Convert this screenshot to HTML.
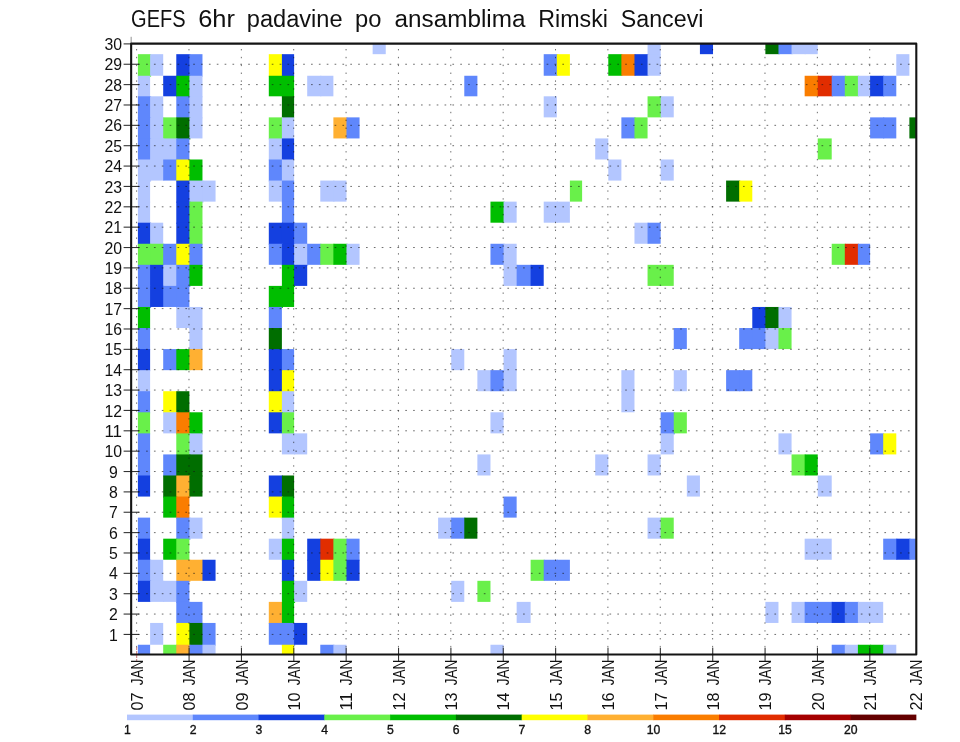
<!DOCTYPE html>
<html lang="sr"><head><meta charset="utf-8"><title>GEFS 6hr padavine po ansamblima Rimski Sancevi</title>
<style>html,body{margin:0;padding:0;background:#fff}body{width:960px;height:742px;overflow:hidden}svg{display:block}text{font-family:"Liberation Sans",sans-serif;fill:#111}</style></head><body>
<svg width="960" height="742" viewBox="0 0 960 742">
<rect width="960" height="742" fill="#fff"/>
<g id="cells">
<rect x="372.65" y="43.65" width="13.09" height="10.52" fill="#b3c6ff"/>
<rect x="647.56" y="43.65" width="13.09" height="11.52" fill="#b3c6ff"/>
<rect x="699.93" y="43.65" width="13.09" height="10.52" fill="#1440e0"/>
<rect x="765.38" y="43.65" width="14.09" height="10.52" fill="#006e00"/>
<rect x="778.47" y="43.65" width="14.09" height="10.52" fill="#5f87fc"/>
<rect x="791.56" y="43.65" width="14.09" height="10.52" fill="#b3c6ff"/>
<rect x="804.65" y="43.65" width="13.09" height="10.52" fill="#b3c6ff"/>
<rect x="137.89" y="54.17" width="13.22" height="22.59" fill="#69f04a"/>
<rect x="150.11" y="54.17" width="13.09" height="21.59" fill="#b3c6ff"/>
<rect x="176.29" y="54.17" width="14.09" height="22.59" fill="#1440e0"/>
<rect x="189.38" y="54.17" width="13.09" height="22.59" fill="#5f87fc"/>
<rect x="268.80" y="54.17" width="14.09" height="22.59" fill="#ffff00"/>
<rect x="281.89" y="54.17" width="12.22" height="22.59" fill="#1440e0"/>
<rect x="543.71" y="54.17" width="14.09" height="21.59" fill="#5f87fc"/>
<rect x="556.80" y="54.17" width="13.09" height="21.59" fill="#ffff00"/>
<rect x="608.29" y="54.17" width="14.09" height="21.59" fill="#00be00"/>
<rect x="621.38" y="54.17" width="14.09" height="21.59" fill="#fa7d00"/>
<rect x="634.47" y="54.17" width="14.09" height="21.59" fill="#1440e0"/>
<rect x="647.56" y="54.17" width="13.09" height="21.59" fill="#b3c6ff"/>
<rect x="896.29" y="54.17" width="13.09" height="21.59" fill="#b3c6ff"/>
<rect x="137.89" y="75.76" width="12.22" height="21.54" fill="#b3c6ff"/>
<rect x="163.20" y="75.76" width="14.09" height="20.54" fill="#1440e0"/>
<rect x="176.29" y="75.76" width="14.09" height="21.54" fill="#00be00"/>
<rect x="189.38" y="75.76" width="13.09" height="21.54" fill="#b3c6ff"/>
<rect x="268.80" y="75.76" width="14.09" height="20.54" fill="#00be00"/>
<rect x="281.89" y="75.76" width="12.22" height="21.54" fill="#00be00"/>
<rect x="307.20" y="75.76" width="14.09" height="20.54" fill="#b3c6ff"/>
<rect x="320.29" y="75.76" width="13.09" height="20.54" fill="#b3c6ff"/>
<rect x="464.29" y="75.76" width="13.09" height="20.54" fill="#5f87fc"/>
<rect x="804.65" y="75.76" width="14.09" height="20.54" fill="#fa7d00"/>
<rect x="817.75" y="75.76" width="14.96" height="20.54" fill="#e12d00"/>
<rect x="831.71" y="75.76" width="14.09" height="20.54" fill="#5f87fc"/>
<rect x="844.80" y="75.76" width="14.09" height="20.54" fill="#69f04a"/>
<rect x="857.89" y="75.76" width="13.22" height="20.54" fill="#b3c6ff"/>
<rect x="870.11" y="75.76" width="14.09" height="20.54" fill="#1440e0"/>
<rect x="883.20" y="75.76" width="13.09" height="20.54" fill="#5f87fc"/>
<rect x="137.89" y="96.30" width="13.22" height="22.07" fill="#5f87fc"/>
<rect x="150.11" y="96.30" width="13.09" height="22.07" fill="#b3c6ff"/>
<rect x="176.29" y="96.30" width="14.09" height="22.07" fill="#5f87fc"/>
<rect x="189.38" y="96.30" width="13.09" height="22.07" fill="#b3c6ff"/>
<rect x="281.89" y="96.30" width="12.22" height="22.07" fill="#006e00"/>
<rect x="543.71" y="96.30" width="13.09" height="21.07" fill="#b3c6ff"/>
<rect x="647.56" y="96.30" width="14.09" height="21.07" fill="#69f04a"/>
<rect x="660.65" y="96.30" width="13.09" height="21.07" fill="#b3c6ff"/>
<rect x="137.89" y="117.37" width="13.22" height="22.07" fill="#5f87fc"/>
<rect x="150.11" y="117.37" width="14.09" height="22.07" fill="#b3c6ff"/>
<rect x="163.20" y="117.37" width="14.09" height="22.07" fill="#69f04a"/>
<rect x="176.29" y="117.37" width="14.09" height="22.07" fill="#006e00"/>
<rect x="189.38" y="117.37" width="13.09" height="21.07" fill="#b3c6ff"/>
<rect x="268.80" y="117.37" width="14.09" height="22.07" fill="#69f04a"/>
<rect x="281.89" y="117.37" width="12.22" height="22.07" fill="#b3c6ff"/>
<rect x="333.38" y="117.37" width="14.09" height="21.07" fill="#ffb032"/>
<rect x="346.47" y="117.37" width="13.09" height="21.07" fill="#5f87fc"/>
<rect x="621.38" y="117.37" width="14.09" height="21.07" fill="#5f87fc"/>
<rect x="634.47" y="117.37" width="13.09" height="21.07" fill="#69f04a"/>
<rect x="870.11" y="117.37" width="14.09" height="21.07" fill="#5f87fc"/>
<rect x="883.20" y="117.37" width="13.09" height="21.07" fill="#5f87fc"/>
<rect x="909.38" y="117.37" width="6.92" height="21.07" fill="#006e00"/>
<rect x="137.89" y="138.43" width="13.22" height="22.07" fill="#5f87fc"/>
<rect x="150.11" y="138.43" width="14.09" height="22.07" fill="#b3c6ff"/>
<rect x="163.20" y="138.43" width="14.09" height="22.07" fill="#b3c6ff"/>
<rect x="176.29" y="138.43" width="13.09" height="22.07" fill="#5f87fc"/>
<rect x="268.80" y="138.43" width="14.09" height="22.07" fill="#b3c6ff"/>
<rect x="281.89" y="138.43" width="12.22" height="22.07" fill="#1440e0"/>
<rect x="595.20" y="138.43" width="13.09" height="21.07" fill="#b3c6ff"/>
<rect x="817.75" y="138.43" width="13.96" height="21.07" fill="#69f04a"/>
<rect x="137.89" y="159.50" width="13.22" height="22.07" fill="#b3c6ff"/>
<rect x="150.11" y="159.50" width="14.09" height="21.07" fill="#b3c6ff"/>
<rect x="163.20" y="159.50" width="14.09" height="21.07" fill="#5f87fc"/>
<rect x="176.29" y="159.50" width="14.09" height="22.07" fill="#ffff00"/>
<rect x="189.38" y="159.50" width="13.09" height="22.07" fill="#00be00"/>
<rect x="268.80" y="159.50" width="14.09" height="22.07" fill="#5f87fc"/>
<rect x="281.89" y="159.50" width="12.22" height="22.07" fill="#b3c6ff"/>
<rect x="608.29" y="159.50" width="13.09" height="21.07" fill="#b3c6ff"/>
<rect x="660.65" y="159.50" width="13.09" height="21.07" fill="#b3c6ff"/>
<rect x="137.89" y="180.56" width="12.22" height="22.07" fill="#b3c6ff"/>
<rect x="176.29" y="180.56" width="14.09" height="22.07" fill="#1440e0"/>
<rect x="189.38" y="180.56" width="14.09" height="22.07" fill="#b3c6ff"/>
<rect x="202.47" y="180.56" width="13.09" height="21.07" fill="#b3c6ff"/>
<rect x="268.80" y="180.56" width="14.09" height="21.07" fill="#b3c6ff"/>
<rect x="281.89" y="180.56" width="12.22" height="22.07" fill="#5f87fc"/>
<rect x="320.29" y="180.56" width="14.09" height="21.07" fill="#b3c6ff"/>
<rect x="333.38" y="180.56" width="13.09" height="21.07" fill="#b3c6ff"/>
<rect x="569.89" y="180.56" width="12.22" height="21.07" fill="#69f04a"/>
<rect x="726.11" y="180.56" width="14.09" height="21.07" fill="#006e00"/>
<rect x="739.20" y="180.56" width="13.09" height="21.07" fill="#ffff00"/>
<rect x="137.89" y="201.63" width="12.22" height="22.07" fill="#b3c6ff"/>
<rect x="176.29" y="201.63" width="14.09" height="22.07" fill="#1440e0"/>
<rect x="189.38" y="201.63" width="13.09" height="22.07" fill="#69f04a"/>
<rect x="281.89" y="201.63" width="12.22" height="22.07" fill="#5f87fc"/>
<rect x="490.47" y="201.63" width="14.09" height="21.07" fill="#00be00"/>
<rect x="503.56" y="201.63" width="13.09" height="21.07" fill="#b3c6ff"/>
<rect x="543.71" y="201.63" width="14.09" height="21.07" fill="#b3c6ff"/>
<rect x="556.80" y="201.63" width="13.09" height="21.07" fill="#b3c6ff"/>
<rect x="137.89" y="222.70" width="13.22" height="22.07" fill="#1440e0"/>
<rect x="150.11" y="222.70" width="13.09" height="22.07" fill="#b3c6ff"/>
<rect x="176.29" y="222.70" width="14.09" height="22.07" fill="#1440e0"/>
<rect x="189.38" y="222.70" width="13.09" height="22.07" fill="#69f04a"/>
<rect x="268.80" y="222.70" width="14.09" height="22.07" fill="#1440e0"/>
<rect x="281.89" y="222.70" width="13.22" height="22.07" fill="#1440e0"/>
<rect x="294.11" y="222.70" width="13.09" height="22.07" fill="#5f87fc"/>
<rect x="634.47" y="222.70" width="14.09" height="21.07" fill="#b3c6ff"/>
<rect x="647.56" y="222.70" width="13.09" height="21.07" fill="#5f87fc"/>
<rect x="137.89" y="243.76" width="13.22" height="22.07" fill="#69f04a"/>
<rect x="150.11" y="243.76" width="14.09" height="22.07" fill="#69f04a"/>
<rect x="163.20" y="243.76" width="14.09" height="22.07" fill="#5f87fc"/>
<rect x="176.29" y="243.76" width="14.09" height="22.07" fill="#ffff00"/>
<rect x="189.38" y="243.76" width="13.09" height="22.07" fill="#5f87fc"/>
<rect x="268.80" y="243.76" width="14.09" height="21.07" fill="#5f87fc"/>
<rect x="281.89" y="243.76" width="13.22" height="22.07" fill="#1440e0"/>
<rect x="294.11" y="243.76" width="14.09" height="22.07" fill="#b3c6ff"/>
<rect x="307.20" y="243.76" width="14.09" height="21.07" fill="#5f87fc"/>
<rect x="320.29" y="243.76" width="14.09" height="21.07" fill="#69f04a"/>
<rect x="333.38" y="243.76" width="14.09" height="21.07" fill="#00be00"/>
<rect x="346.47" y="243.76" width="13.09" height="21.07" fill="#b3c6ff"/>
<rect x="490.47" y="243.76" width="14.09" height="21.07" fill="#5f87fc"/>
<rect x="503.56" y="243.76" width="13.09" height="22.07" fill="#b3c6ff"/>
<rect x="831.71" y="243.76" width="14.09" height="21.07" fill="#69f04a"/>
<rect x="844.80" y="243.76" width="14.09" height="21.07" fill="#e12d00"/>
<rect x="857.89" y="243.76" width="12.22" height="21.07" fill="#5f87fc"/>
<rect x="137.89" y="264.83" width="13.22" height="22.07" fill="#5f87fc"/>
<rect x="150.11" y="264.83" width="14.09" height="22.07" fill="#1440e0"/>
<rect x="163.20" y="264.83" width="14.09" height="22.07" fill="#b3c6ff"/>
<rect x="176.29" y="264.83" width="14.09" height="22.07" fill="#5f87fc"/>
<rect x="189.38" y="264.83" width="13.09" height="21.07" fill="#00be00"/>
<rect x="281.89" y="264.83" width="13.22" height="22.07" fill="#00be00"/>
<rect x="294.11" y="264.83" width="13.09" height="21.07" fill="#1440e0"/>
<rect x="503.56" y="264.83" width="14.09" height="21.07" fill="#b3c6ff"/>
<rect x="516.65" y="264.83" width="14.96" height="21.07" fill="#5f87fc"/>
<rect x="530.62" y="264.83" width="13.09" height="21.07" fill="#1440e0"/>
<rect x="647.56" y="264.83" width="14.09" height="21.07" fill="#69f04a"/>
<rect x="660.65" y="264.83" width="13.09" height="21.07" fill="#69f04a"/>
<rect x="137.89" y="285.89" width="13.22" height="22.07" fill="#5f87fc"/>
<rect x="150.11" y="285.89" width="14.09" height="21.07" fill="#1440e0"/>
<rect x="163.20" y="285.89" width="14.09" height="21.07" fill="#5f87fc"/>
<rect x="176.29" y="285.89" width="13.09" height="22.07" fill="#5f87fc"/>
<rect x="268.80" y="285.89" width="14.09" height="22.07" fill="#00be00"/>
<rect x="281.89" y="285.89" width="12.22" height="21.07" fill="#00be00"/>
<rect x="137.89" y="306.96" width="12.22" height="22.07" fill="#00be00"/>
<rect x="176.29" y="306.96" width="14.09" height="21.07" fill="#b3c6ff"/>
<rect x="189.38" y="306.96" width="13.09" height="22.07" fill="#b3c6ff"/>
<rect x="268.80" y="306.96" width="13.09" height="22.07" fill="#5f87fc"/>
<rect x="752.29" y="306.96" width="14.09" height="22.07" fill="#1440e0"/>
<rect x="765.38" y="306.96" width="14.09" height="22.07" fill="#006e00"/>
<rect x="778.47" y="306.96" width="13.09" height="22.07" fill="#b3c6ff"/>
<rect x="137.89" y="328.03" width="12.22" height="22.07" fill="#5f87fc"/>
<rect x="189.38" y="328.03" width="13.09" height="22.07" fill="#b3c6ff"/>
<rect x="268.80" y="328.03" width="13.09" height="22.07" fill="#006e00"/>
<rect x="673.75" y="328.03" width="13.09" height="21.07" fill="#5f87fc"/>
<rect x="739.20" y="328.03" width="14.09" height="21.07" fill="#5f87fc"/>
<rect x="752.29" y="328.03" width="14.09" height="21.07" fill="#5f87fc"/>
<rect x="765.38" y="328.03" width="14.09" height="21.07" fill="#b3c6ff"/>
<rect x="778.47" y="328.03" width="13.09" height="21.07" fill="#69f04a"/>
<rect x="137.89" y="349.09" width="12.22" height="22.07" fill="#1440e0"/>
<rect x="163.20" y="349.09" width="14.09" height="21.07" fill="#5f87fc"/>
<rect x="176.29" y="349.09" width="14.09" height="21.07" fill="#00be00"/>
<rect x="189.38" y="349.09" width="13.09" height="21.07" fill="#ffb032"/>
<rect x="268.80" y="349.09" width="14.09" height="22.07" fill="#1440e0"/>
<rect x="281.89" y="349.09" width="12.22" height="22.07" fill="#5f87fc"/>
<rect x="451.20" y="349.09" width="13.09" height="21.07" fill="#b3c6ff"/>
<rect x="503.56" y="349.09" width="13.09" height="22.07" fill="#b3c6ff"/>
<rect x="137.89" y="370.16" width="12.22" height="22.07" fill="#b3c6ff"/>
<rect x="268.80" y="370.16" width="14.09" height="22.07" fill="#1440e0"/>
<rect x="281.89" y="370.16" width="12.22" height="22.07" fill="#ffff00"/>
<rect x="477.38" y="370.16" width="14.09" height="21.07" fill="#b3c6ff"/>
<rect x="490.47" y="370.16" width="14.09" height="21.07" fill="#5f87fc"/>
<rect x="503.56" y="370.16" width="13.09" height="21.07" fill="#b3c6ff"/>
<rect x="621.38" y="370.16" width="13.09" height="22.07" fill="#b3c6ff"/>
<rect x="673.75" y="370.16" width="13.09" height="21.07" fill="#b3c6ff"/>
<rect x="726.11" y="370.16" width="14.09" height="21.07" fill="#5f87fc"/>
<rect x="739.20" y="370.16" width="13.09" height="21.07" fill="#5f87fc"/>
<rect x="137.89" y="391.22" width="12.22" height="22.07" fill="#5f87fc"/>
<rect x="163.20" y="391.22" width="14.09" height="22.07" fill="#ffff00"/>
<rect x="176.29" y="391.22" width="13.09" height="22.07" fill="#006e00"/>
<rect x="268.80" y="391.22" width="14.09" height="22.07" fill="#ffff00"/>
<rect x="281.89" y="391.22" width="12.22" height="22.07" fill="#b3c6ff"/>
<rect x="621.38" y="391.22" width="13.09" height="21.07" fill="#b3c6ff"/>
<rect x="137.89" y="412.29" width="12.22" height="22.07" fill="#69f04a"/>
<rect x="163.20" y="412.29" width="14.09" height="21.07" fill="#b3c6ff"/>
<rect x="176.29" y="412.29" width="14.09" height="22.07" fill="#fa7d00"/>
<rect x="189.38" y="412.29" width="13.09" height="22.07" fill="#00be00"/>
<rect x="268.80" y="412.29" width="14.09" height="21.07" fill="#1440e0"/>
<rect x="281.89" y="412.29" width="12.22" height="22.07" fill="#69f04a"/>
<rect x="490.47" y="412.29" width="13.09" height="21.07" fill="#b3c6ff"/>
<rect x="660.65" y="412.29" width="14.09" height="22.07" fill="#5f87fc"/>
<rect x="673.75" y="412.29" width="13.09" height="21.07" fill="#69f04a"/>
<rect x="137.89" y="433.35" width="12.22" height="22.07" fill="#5f87fc"/>
<rect x="176.29" y="433.35" width="14.09" height="22.07" fill="#69f04a"/>
<rect x="189.38" y="433.35" width="13.09" height="22.07" fill="#b3c6ff"/>
<rect x="281.89" y="433.35" width="13.22" height="21.07" fill="#b3c6ff"/>
<rect x="294.11" y="433.35" width="13.09" height="21.07" fill="#b3c6ff"/>
<rect x="660.65" y="433.35" width="13.09" height="21.07" fill="#b3c6ff"/>
<rect x="778.47" y="433.35" width="13.09" height="21.07" fill="#b3c6ff"/>
<rect x="870.11" y="433.35" width="14.09" height="21.07" fill="#5f87fc"/>
<rect x="883.20" y="433.35" width="13.09" height="21.07" fill="#ffff00"/>
<rect x="137.89" y="454.42" width="12.22" height="22.07" fill="#5f87fc"/>
<rect x="163.20" y="454.42" width="14.09" height="22.07" fill="#5f87fc"/>
<rect x="176.29" y="454.42" width="14.09" height="22.07" fill="#006e00"/>
<rect x="189.38" y="454.42" width="13.09" height="22.07" fill="#006e00"/>
<rect x="477.38" y="454.42" width="13.09" height="21.07" fill="#b3c6ff"/>
<rect x="595.20" y="454.42" width="13.09" height="21.07" fill="#b3c6ff"/>
<rect x="647.56" y="454.42" width="13.09" height="21.07" fill="#b3c6ff"/>
<rect x="791.56" y="454.42" width="14.09" height="21.07" fill="#69f04a"/>
<rect x="804.65" y="454.42" width="13.09" height="21.07" fill="#00be00"/>
<rect x="137.89" y="475.49" width="12.22" height="21.07" fill="#1440e0"/>
<rect x="163.20" y="475.49" width="14.09" height="22.07" fill="#006e00"/>
<rect x="176.29" y="475.49" width="14.09" height="22.07" fill="#ffb032"/>
<rect x="189.38" y="475.49" width="13.09" height="21.07" fill="#006e00"/>
<rect x="268.80" y="475.49" width="14.09" height="22.07" fill="#1440e0"/>
<rect x="281.89" y="475.49" width="12.22" height="22.07" fill="#006e00"/>
<rect x="686.84" y="475.49" width="13.09" height="21.07" fill="#b3c6ff"/>
<rect x="817.75" y="475.49" width="13.96" height="21.07" fill="#b3c6ff"/>
<rect x="163.20" y="496.55" width="14.09" height="21.07" fill="#00be00"/>
<rect x="176.29" y="496.55" width="13.09" height="22.07" fill="#fa7d00"/>
<rect x="268.80" y="496.55" width="14.09" height="21.07" fill="#ffff00"/>
<rect x="281.89" y="496.55" width="12.22" height="22.07" fill="#00be00"/>
<rect x="503.56" y="496.55" width="13.09" height="21.07" fill="#5f87fc"/>
<rect x="137.89" y="517.62" width="12.22" height="22.07" fill="#5f87fc"/>
<rect x="176.29" y="517.62" width="14.09" height="22.07" fill="#5f87fc"/>
<rect x="189.38" y="517.62" width="13.09" height="21.07" fill="#b3c6ff"/>
<rect x="281.89" y="517.62" width="12.22" height="22.07" fill="#b3c6ff"/>
<rect x="438.11" y="517.62" width="14.09" height="21.07" fill="#b3c6ff"/>
<rect x="451.20" y="517.62" width="14.09" height="21.07" fill="#5f87fc"/>
<rect x="464.29" y="517.62" width="13.09" height="21.07" fill="#006e00"/>
<rect x="647.56" y="517.62" width="14.09" height="21.07" fill="#b3c6ff"/>
<rect x="660.65" y="517.62" width="13.09" height="21.07" fill="#69f04a"/>
<rect x="137.89" y="538.68" width="12.22" height="22.07" fill="#1440e0"/>
<rect x="163.20" y="538.68" width="14.09" height="21.07" fill="#00be00"/>
<rect x="176.29" y="538.68" width="13.09" height="22.07" fill="#69f04a"/>
<rect x="268.80" y="538.68" width="14.09" height="21.07" fill="#b3c6ff"/>
<rect x="281.89" y="538.68" width="12.22" height="22.07" fill="#00be00"/>
<rect x="307.20" y="538.68" width="14.09" height="22.07" fill="#1440e0"/>
<rect x="320.29" y="538.68" width="14.09" height="22.07" fill="#e12d00"/>
<rect x="333.38" y="538.68" width="14.09" height="22.07" fill="#69f04a"/>
<rect x="346.47" y="538.68" width="13.09" height="22.07" fill="#5f87fc"/>
<rect x="804.65" y="538.68" width="14.09" height="21.07" fill="#b3c6ff"/>
<rect x="817.75" y="538.68" width="13.96" height="21.07" fill="#b3c6ff"/>
<rect x="883.20" y="538.68" width="14.09" height="21.07" fill="#5f87fc"/>
<rect x="896.29" y="538.68" width="14.09" height="21.07" fill="#1440e0"/>
<rect x="909.38" y="538.68" width="6.92" height="21.07" fill="#5f87fc"/>
<rect x="137.89" y="559.75" width="13.22" height="22.07" fill="#5f87fc"/>
<rect x="150.11" y="559.75" width="13.09" height="22.07" fill="#b3c6ff"/>
<rect x="176.29" y="559.75" width="14.09" height="22.07" fill="#ffb032"/>
<rect x="189.38" y="559.75" width="14.09" height="21.07" fill="#ffb032"/>
<rect x="202.47" y="559.75" width="13.09" height="21.07" fill="#1440e0"/>
<rect x="281.89" y="559.75" width="12.22" height="22.07" fill="#1440e0"/>
<rect x="307.20" y="559.75" width="14.09" height="21.07" fill="#1440e0"/>
<rect x="320.29" y="559.75" width="14.09" height="21.07" fill="#ffff00"/>
<rect x="333.38" y="559.75" width="14.09" height="21.07" fill="#69f04a"/>
<rect x="346.47" y="559.75" width="13.09" height="21.07" fill="#1440e0"/>
<rect x="530.62" y="559.75" width="14.09" height="21.07" fill="#69f04a"/>
<rect x="543.71" y="559.75" width="14.09" height="21.07" fill="#5f87fc"/>
<rect x="556.80" y="559.75" width="13.09" height="21.07" fill="#5f87fc"/>
<rect x="137.89" y="580.82" width="13.22" height="21.07" fill="#1440e0"/>
<rect x="150.11" y="580.82" width="14.09" height="21.07" fill="#b3c6ff"/>
<rect x="163.20" y="580.82" width="14.09" height="21.07" fill="#b3c6ff"/>
<rect x="176.29" y="580.82" width="13.09" height="22.07" fill="#5f87fc"/>
<rect x="281.89" y="580.82" width="13.22" height="22.07" fill="#00be00"/>
<rect x="294.11" y="580.82" width="13.09" height="21.07" fill="#b3c6ff"/>
<rect x="451.20" y="580.82" width="13.09" height="21.07" fill="#b3c6ff"/>
<rect x="477.38" y="580.82" width="13.09" height="21.07" fill="#69f04a"/>
<rect x="176.29" y="601.88" width="14.09" height="22.07" fill="#5f87fc"/>
<rect x="189.38" y="601.88" width="13.09" height="22.07" fill="#5f87fc"/>
<rect x="268.80" y="601.88" width="14.09" height="22.07" fill="#ffb032"/>
<rect x="281.89" y="601.88" width="12.22" height="22.07" fill="#00be00"/>
<rect x="516.65" y="601.88" width="13.96" height="21.07" fill="#b3c6ff"/>
<rect x="765.38" y="601.88" width="13.09" height="21.07" fill="#b3c6ff"/>
<rect x="791.56" y="601.88" width="14.09" height="21.07" fill="#b3c6ff"/>
<rect x="804.65" y="601.88" width="14.09" height="21.07" fill="#5f87fc"/>
<rect x="817.75" y="601.88" width="14.96" height="21.07" fill="#5f87fc"/>
<rect x="831.71" y="601.88" width="14.09" height="21.07" fill="#1440e0"/>
<rect x="844.80" y="601.88" width="14.09" height="21.07" fill="#5f87fc"/>
<rect x="857.89" y="601.88" width="13.22" height="21.07" fill="#b3c6ff"/>
<rect x="870.11" y="601.88" width="13.09" height="21.07" fill="#b3c6ff"/>
<rect x="150.11" y="622.95" width="13.09" height="21.81" fill="#b3c6ff"/>
<rect x="176.29" y="622.95" width="14.09" height="22.81" fill="#ffff00"/>
<rect x="189.38" y="622.95" width="14.09" height="22.81" fill="#006e00"/>
<rect x="202.47" y="622.95" width="13.09" height="22.81" fill="#5f87fc"/>
<rect x="268.80" y="622.95" width="14.09" height="21.81" fill="#5f87fc"/>
<rect x="281.89" y="622.95" width="13.22" height="22.81" fill="#5f87fc"/>
<rect x="294.11" y="622.95" width="13.09" height="21.81" fill="#1440e0"/>
<rect x="137.89" y="644.75" width="12.22" height="9.70" fill="#5f87fc"/>
<rect x="163.20" y="644.75" width="14.09" height="9.70" fill="#69f04a"/>
<rect x="176.29" y="644.75" width="14.09" height="9.70" fill="#ffb032"/>
<rect x="189.38" y="644.75" width="14.09" height="9.70" fill="#5f87fc"/>
<rect x="202.47" y="644.75" width="13.09" height="9.70" fill="#b3c6ff"/>
<rect x="281.89" y="644.75" width="12.22" height="9.70" fill="#ffff00"/>
<rect x="320.29" y="644.75" width="14.09" height="9.70" fill="#5f87fc"/>
<rect x="333.38" y="644.75" width="13.09" height="9.70" fill="#b3c6ff"/>
<rect x="490.47" y="644.75" width="13.09" height="9.70" fill="#b3c6ff"/>
<rect x="831.71" y="644.75" width="14.09" height="9.70" fill="#5f87fc"/>
<rect x="844.80" y="644.75" width="14.09" height="9.70" fill="#b3c6ff"/>
<rect x="857.89" y="644.75" width="13.22" height="9.70" fill="#00be00"/>
<rect x="870.11" y="644.75" width="14.09" height="9.70" fill="#00be00"/>
<rect x="883.20" y="644.75" width="13.09" height="9.70" fill="#b3c6ff"/>
</g>
<g id="grid" stroke="#151515" stroke-opacity="0.66" stroke-width="0.95" stroke-dasharray="1.658 6.196" fill="none">
<path d="M130.39 634.43H915.30"/>
<path d="M130.39 614.07H915.30"/>
<path d="M130.39 593.70H915.30"/>
<path d="M130.39 573.34H915.30"/>
<path d="M130.39 552.98H915.30"/>
<path d="M130.39 532.61H915.30"/>
<path d="M130.39 512.25H915.30"/>
<path d="M130.39 491.89H915.30"/>
<path d="M130.39 471.52H915.30"/>
<path d="M130.39 451.16H915.30"/>
<path d="M130.39 430.80H915.30"/>
<path d="M130.39 410.43H915.30"/>
<path d="M130.39 390.07H915.30"/>
<path d="M130.39 369.70H915.30"/>
<path d="M130.39 349.34H915.30"/>
<path d="M130.39 328.98H915.30"/>
<path d="M130.39 308.61H915.30"/>
<path d="M130.39 288.25H915.30"/>
<path d="M130.39 267.89H915.30"/>
<path d="M130.39 247.52H915.30"/>
<path d="M130.39 227.16H915.30"/>
<path d="M130.39 206.80H915.30"/>
<path d="M130.39 186.43H915.30"/>
<path d="M130.39 166.07H915.30"/>
<path d="M130.39 145.70H915.30"/>
<path d="M130.39 125.34H915.30"/>
<path d="M130.39 104.98H915.30"/>
<path d="M130.39 84.61H915.30"/>
<path d="M130.39 64.25H915.30"/>
</g>
<g id="gridv" stroke="#151515" stroke-opacity="0.66" stroke-width="0.95" stroke-dasharray="1.396 6.458" fill="none">
<path d="M136.62 655.15V44.65"/>
<path d="M188.98 655.15V44.65"/>
<path d="M241.35 655.15V44.65"/>
<path d="M293.71 655.15V44.65"/>
<path d="M346.07 655.15V44.65"/>
<path d="M398.44 655.15V44.65"/>
<path d="M450.80 655.15V44.65"/>
<path d="M503.16 655.15V44.65"/>
<path d="M555.53 655.15V44.65"/>
<path d="M607.89 655.15V44.65"/>
<path d="M660.25 655.15V44.65"/>
<path d="M712.62 655.15V44.65"/>
<path d="M764.98 655.15V44.65"/>
<path d="M817.35 655.15V44.65"/>
<path d="M869.71 655.15V44.65"/>
</g>
<rect x="131.15" y="43.65" width="785.15" height="610.80" fill="none" stroke="#141414" stroke-width="2.1" stroke-linejoin="round"/>
<path d="M131.15 36.8V43.65" stroke="#333" stroke-opacity="0.55" stroke-width="1"/>
<g id="ticks" stroke="#111" stroke-width="1.1" stroke-opacity="0.85">
<path d="M123.6 634.43H139.0"/>
<path d="M123.6 614.07H139.0"/>
<path d="M123.6 593.70H139.0"/>
<path d="M123.6 573.34H139.0"/>
<path d="M123.6 552.98H139.0"/>
<path d="M123.6 532.61H139.0"/>
<path d="M123.6 512.25H139.0"/>
<path d="M123.6 491.89H139.0"/>
<path d="M123.6 471.52H139.0"/>
<path d="M123.6 451.16H139.0"/>
<path d="M123.6 430.80H139.0"/>
<path d="M123.6 410.43H139.0"/>
<path d="M123.6 390.07H139.0"/>
<path d="M123.6 369.70H139.0"/>
<path d="M123.6 349.34H139.0"/>
<path d="M123.6 328.98H139.0"/>
<path d="M123.6 308.61H139.0"/>
<path d="M123.6 288.25H139.0"/>
<path d="M123.6 267.89H139.0"/>
<path d="M123.6 247.52H139.0"/>
<path d="M123.6 227.16H139.0"/>
<path d="M123.6 206.80H139.0"/>
<path d="M123.6 186.43H139.0"/>
<path d="M123.6 166.07H139.0"/>
<path d="M123.6 145.70H139.0"/>
<path d="M123.6 125.34H139.0"/>
<path d="M123.6 104.98H139.0"/>
<path d="M123.6 84.61H139.0"/>
<path d="M123.6 64.25H139.0"/>
<path d="M123.6 43.89H131.0"/>
<path d="M189.08 647.8V661"/>
<path d="M241.45 647.8V661"/>
<path d="M293.81 647.8V661"/>
<path d="M346.17 647.8V661"/>
<path d="M398.54 647.8V661"/>
<path d="M450.90 647.8V661"/>
<path d="M503.26 647.8V661"/>
<path d="M555.63 647.8V661"/>
<path d="M607.99 647.8V661"/>
<path d="M660.35 647.8V661"/>
<path d="M712.72 647.8V661"/>
<path d="M765.08 647.8V661"/>
<path d="M817.45 647.8V661"/>
<path d="M869.81 647.8V661"/>
</g>
<path d="M136.7 647V661" stroke="#a02020" stroke-opacity="0.6" stroke-width="1" stroke-dasharray="3 1"/>
<g id="ylab" font-size="16.7">
<text x="109.0" y="640.53" textLength="8.8" lengthAdjust="spacingAndGlyphs">1</text>
<text x="109.0" y="620.17" textLength="8.8" lengthAdjust="spacingAndGlyphs">2</text>
<text x="109.0" y="599.80" textLength="8.8" lengthAdjust="spacingAndGlyphs">3</text>
<text x="109.0" y="579.44" textLength="8.8" lengthAdjust="spacingAndGlyphs">4</text>
<text x="109.0" y="559.08" textLength="8.8" lengthAdjust="spacingAndGlyphs">5</text>
<text x="109.0" y="538.71" textLength="8.8" lengthAdjust="spacingAndGlyphs">6</text>
<text x="109.0" y="518.35" textLength="8.8" lengthAdjust="spacingAndGlyphs">7</text>
<text x="109.0" y="497.99" textLength="8.8" lengthAdjust="spacingAndGlyphs">8</text>
<text x="109.0" y="477.62" textLength="8.8" lengthAdjust="spacingAndGlyphs">9</text>
<text x="104.4" y="457.26" textLength="17.6" lengthAdjust="spacingAndGlyphs">10</text>
<text x="104.4" y="436.90" textLength="17.6" lengthAdjust="spacingAndGlyphs">11</text>
<text x="104.4" y="416.53" textLength="17.6" lengthAdjust="spacingAndGlyphs">12</text>
<text x="104.4" y="396.17" textLength="17.6" lengthAdjust="spacingAndGlyphs">13</text>
<text x="104.4" y="375.80" textLength="17.6" lengthAdjust="spacingAndGlyphs">14</text>
<text x="104.4" y="355.44" textLength="17.6" lengthAdjust="spacingAndGlyphs">15</text>
<text x="104.4" y="335.08" textLength="17.6" lengthAdjust="spacingAndGlyphs">16</text>
<text x="104.4" y="314.71" textLength="17.6" lengthAdjust="spacingAndGlyphs">17</text>
<text x="104.4" y="294.35" textLength="17.6" lengthAdjust="spacingAndGlyphs">18</text>
<text x="104.4" y="273.99" textLength="17.6" lengthAdjust="spacingAndGlyphs">19</text>
<text x="104.4" y="253.62" textLength="17.6" lengthAdjust="spacingAndGlyphs">20</text>
<text x="104.4" y="233.26" textLength="17.6" lengthAdjust="spacingAndGlyphs">21</text>
<text x="104.4" y="212.90" textLength="17.6" lengthAdjust="spacingAndGlyphs">22</text>
<text x="104.4" y="192.53" textLength="17.6" lengthAdjust="spacingAndGlyphs">23</text>
<text x="104.4" y="172.17" textLength="17.6" lengthAdjust="spacingAndGlyphs">24</text>
<text x="104.4" y="151.80" textLength="17.6" lengthAdjust="spacingAndGlyphs">25</text>
<text x="104.4" y="131.44" textLength="17.6" lengthAdjust="spacingAndGlyphs">26</text>
<text x="104.4" y="111.08" textLength="17.6" lengthAdjust="spacingAndGlyphs">27</text>
<text x="104.4" y="90.71" textLength="17.6" lengthAdjust="spacingAndGlyphs">28</text>
<text x="104.4" y="70.35" textLength="17.6" lengthAdjust="spacingAndGlyphs">29</text>
<text x="104.4" y="49.99" textLength="17.6" lengthAdjust="spacingAndGlyphs">30</text>
</g>
<g id="xlab" font-size="17">
<text transform="translate(142.92 709.7) rotate(-90)"><tspan x="-0.7" textLength="18" lengthAdjust="spacingAndGlyphs">07</tspan><tspan x="23.2" textLength="8.9" lengthAdjust="spacingAndGlyphs"> </tspan><tspan x="24.5" textLength="25.6" lengthAdjust="spacingAndGlyphs">JAN</tspan></text>
<text transform="translate(195.28 709.7) rotate(-90)"><tspan x="-0.7" textLength="18" lengthAdjust="spacingAndGlyphs">08</tspan><tspan x="23.2" textLength="8.9" lengthAdjust="spacingAndGlyphs"> </tspan><tspan x="24.5" textLength="25.6" lengthAdjust="spacingAndGlyphs">JAN</tspan></text>
<text transform="translate(247.65 709.7) rotate(-90)"><tspan x="-0.7" textLength="18" lengthAdjust="spacingAndGlyphs">09</tspan><tspan x="23.2" textLength="8.9" lengthAdjust="spacingAndGlyphs"> </tspan><tspan x="24.5" textLength="25.6" lengthAdjust="spacingAndGlyphs">JAN</tspan></text>
<text transform="translate(300.01 709.7) rotate(-90)"><tspan x="-0.7" textLength="18" lengthAdjust="spacingAndGlyphs">10</tspan><tspan x="23.2" textLength="8.9" lengthAdjust="spacingAndGlyphs"> </tspan><tspan x="24.5" textLength="25.6" lengthAdjust="spacingAndGlyphs">JAN</tspan></text>
<text transform="translate(352.37 709.7) rotate(-90)"><tspan x="-0.7" textLength="18" lengthAdjust="spacingAndGlyphs">11</tspan><tspan x="23.2" textLength="8.9" lengthAdjust="spacingAndGlyphs"> </tspan><tspan x="24.5" textLength="25.6" lengthAdjust="spacingAndGlyphs">JAN</tspan></text>
<text transform="translate(404.74 709.7) rotate(-90)"><tspan x="-0.7" textLength="18" lengthAdjust="spacingAndGlyphs">12</tspan><tspan x="23.2" textLength="8.9" lengthAdjust="spacingAndGlyphs"> </tspan><tspan x="24.5" textLength="25.6" lengthAdjust="spacingAndGlyphs">JAN</tspan></text>
<text transform="translate(457.10 709.7) rotate(-90)"><tspan x="-0.7" textLength="18" lengthAdjust="spacingAndGlyphs">13</tspan><tspan x="23.2" textLength="8.9" lengthAdjust="spacingAndGlyphs"> </tspan><tspan x="24.5" textLength="25.6" lengthAdjust="spacingAndGlyphs">JAN</tspan></text>
<text transform="translate(509.46 709.7) rotate(-90)"><tspan x="-0.7" textLength="18" lengthAdjust="spacingAndGlyphs">14</tspan><tspan x="23.2" textLength="8.9" lengthAdjust="spacingAndGlyphs"> </tspan><tspan x="24.5" textLength="25.6" lengthAdjust="spacingAndGlyphs">JAN</tspan></text>
<text transform="translate(561.83 709.7) rotate(-90)"><tspan x="-0.7" textLength="18" lengthAdjust="spacingAndGlyphs">15</tspan><tspan x="23.2" textLength="8.9" lengthAdjust="spacingAndGlyphs"> </tspan><tspan x="24.5" textLength="25.6" lengthAdjust="spacingAndGlyphs">JAN</tspan></text>
<text transform="translate(614.19 709.7) rotate(-90)"><tspan x="-0.7" textLength="18" lengthAdjust="spacingAndGlyphs">16</tspan><tspan x="23.2" textLength="8.9" lengthAdjust="spacingAndGlyphs"> </tspan><tspan x="24.5" textLength="25.6" lengthAdjust="spacingAndGlyphs">JAN</tspan></text>
<text transform="translate(666.55 709.7) rotate(-90)"><tspan x="-0.7" textLength="18" lengthAdjust="spacingAndGlyphs">17</tspan><tspan x="23.2" textLength="8.9" lengthAdjust="spacingAndGlyphs"> </tspan><tspan x="24.5" textLength="25.6" lengthAdjust="spacingAndGlyphs">JAN</tspan></text>
<text transform="translate(718.92 709.7) rotate(-90)"><tspan x="-0.7" textLength="18" lengthAdjust="spacingAndGlyphs">18</tspan><tspan x="23.2" textLength="8.9" lengthAdjust="spacingAndGlyphs"> </tspan><tspan x="24.5" textLength="25.6" lengthAdjust="spacingAndGlyphs">JAN</tspan></text>
<text transform="translate(771.28 709.7) rotate(-90)"><tspan x="-0.7" textLength="18" lengthAdjust="spacingAndGlyphs">19</tspan><tspan x="23.2" textLength="8.9" lengthAdjust="spacingAndGlyphs"> </tspan><tspan x="24.5" textLength="25.6" lengthAdjust="spacingAndGlyphs">JAN</tspan></text>
<text transform="translate(823.65 709.7) rotate(-90)"><tspan x="-0.7" textLength="18" lengthAdjust="spacingAndGlyphs">20</tspan><tspan x="23.2" textLength="8.9" lengthAdjust="spacingAndGlyphs"> </tspan><tspan x="24.5" textLength="25.6" lengthAdjust="spacingAndGlyphs">JAN</tspan></text>
<text transform="translate(876.01 709.7) rotate(-90)"><tspan x="-0.7" textLength="18" lengthAdjust="spacingAndGlyphs">21</tspan><tspan x="23.2" textLength="8.9" lengthAdjust="spacingAndGlyphs"> </tspan><tspan x="24.5" textLength="25.6" lengthAdjust="spacingAndGlyphs">JAN</tspan></text>
<text transform="translate(921.90 709.7) rotate(-90)"><tspan x="-0.7" textLength="18" lengthAdjust="spacingAndGlyphs">22</tspan><tspan x="23.2" textLength="8.9" lengthAdjust="spacingAndGlyphs"> </tspan><tspan x="24.5" textLength="25.6" lengthAdjust="spacingAndGlyphs">JAN</tspan></text>
</g>
<g id="title" font-size="23">
<text x="131.05" y="26.6" textLength="54.55" lengthAdjust="spacingAndGlyphs">GEFS</text>
<text x="198.20" y="26.6" textLength="36.75" lengthAdjust="spacingAndGlyphs">6hr</text>
<text x="246.80" y="26.6" textLength="95.70" lengthAdjust="spacingAndGlyphs">padavine</text>
<text x="355.10" y="26.6" textLength="26.40" lengthAdjust="spacingAndGlyphs">po</text>
<text x="394.60" y="26.6" textLength="130.80" lengthAdjust="spacingAndGlyphs">ansamblima</text>
<text x="538.30" y="26.6" textLength="69.70" lengthAdjust="spacingAndGlyphs">Rimski</text>
<text x="620.80" y="26.6" textLength="82.60" lengthAdjust="spacingAndGlyphs">Sancevi</text>
</g>
<g id="cbar">
<rect x="127.00" y="714.6" width="66.28" height="5.6" fill="#b3c6ff"/>
<rect x="192.78" y="714.6" width="66.28" height="5.6" fill="#5f87fc"/>
<rect x="258.56" y="714.6" width="66.28" height="5.6" fill="#1440e0"/>
<rect x="324.34" y="714.6" width="66.28" height="5.6" fill="#69f04a"/>
<rect x="390.12" y="714.6" width="66.28" height="5.6" fill="#00be00"/>
<rect x="455.90" y="714.6" width="66.28" height="5.6" fill="#006e00"/>
<rect x="521.68" y="714.6" width="66.28" height="5.6" fill="#ffff00"/>
<rect x="587.46" y="714.6" width="66.28" height="5.6" fill="#ffb032"/>
<rect x="653.24" y="714.6" width="66.28" height="5.6" fill="#fa7d00"/>
<rect x="719.02" y="714.6" width="66.28" height="5.6" fill="#e12d00"/>
<rect x="784.80" y="714.6" width="66.28" height="5.6" fill="#a50000"/>
<rect x="850.58" y="714.6" width="65.78" height="5.6" fill="#640000"/>
</g>
<g id="cblab" font-size="12.2" text-anchor="middle" stroke="#111" stroke-width="0.35">
<text x="127.30" y="733.5">1</text>
<text x="193.08" y="733.5">2</text>
<text x="258.86" y="733.5">3</text>
<text x="324.64" y="733.5">4</text>
<text x="390.42" y="733.5">5</text>
<text x="456.20" y="733.5">6</text>
<text x="521.98" y="733.5">7</text>
<text x="587.76" y="733.5">8</text>
<text x="653.54" y="733.5">10</text>
<text x="719.32" y="733.5">12</text>
<text x="785.10" y="733.5">15</text>
<text x="850.88" y="733.5">20</text>
</g>
</svg></body></html>
